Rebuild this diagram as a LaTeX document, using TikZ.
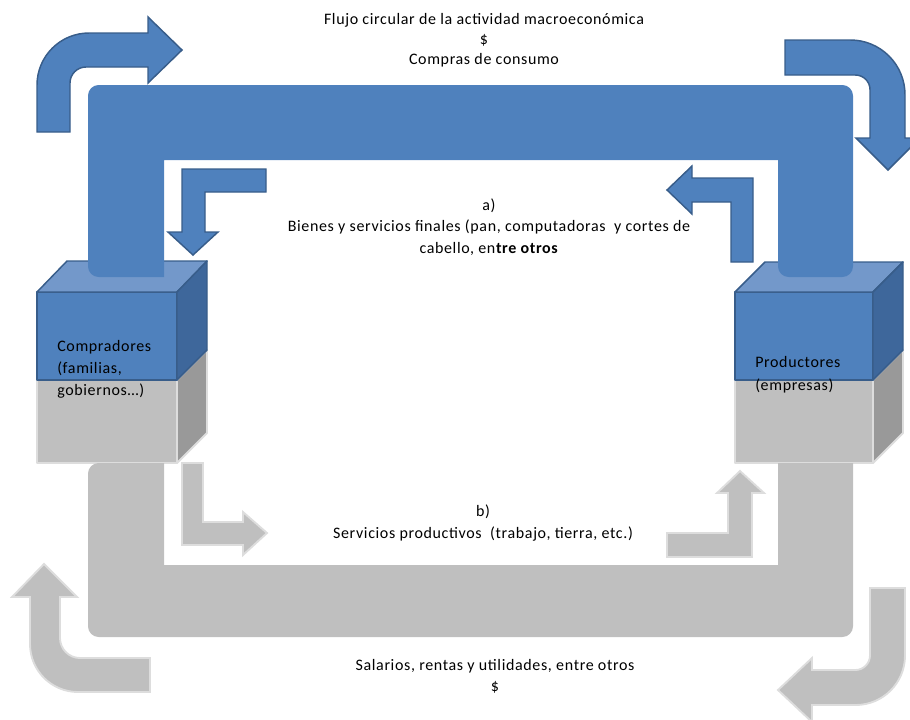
\documentclass[tikz,border=0pt]{standalone}
\usepackage{fontspec}
\setmainfont{Carlito}[LetterSpace=4]

\definecolor{flowblue}{HTML}{4F81BD}
\definecolor{flowblueline}{HTML}{385D8A}
\definecolor{flowbluetop}{HTML}{7398CA}
\definecolor{flowblueside}{HTML}{3E679B}
\definecolor{flowgray}{HTML}{BFBFBF}
\definecolor{flowgrayline}{HTML}{DDDDDD}
\definecolor{flowgrayside}{HTML}{999999}

\begin{document}
\begin{tikzpicture}[x=0.75pt,y=-0.75pt,
  bluearrow/.style={fill=flowblue, draw=flowblueline, line width=1.1pt},
  grayarrow/.style={fill=flowgray, draw=flowgrayline, line width=1.4pt},
  bluecube/.style={draw=flowblueline, line width=1.1pt, line join=round},
  graycube/.style={draw=flowgrayline, line width=1.4pt, line join=round},
  txt/.style={font=\fontsize{12}{16}\selectfont, align=center, inner sep=0pt}]

\useasboundingbox (0,0) rectangle (910,719);

%% The left box (Compradores)
\draw[graycube, fill=flowgray] (37,380) rectangle (177,463);
\draw[graycube, fill=flowgrayside] (177,380) -- (207,350) -- (207,433) -- (177,463) -- cycle;
\draw[bluecube, fill=flowblue] (37,292) rectangle (177,380);
\draw[bluecube, fill=flowbluetop] (37,292) -- (67,261) -- (207,261) -- (177,292) -- cycle;
\draw[bluecube, fill=flowblueside] (177,292) -- (207,261) -- (207,350) -- (177,380) -- cycle;

%% The right box (Productores)
\draw[graycube, fill=flowgray] (735,380) rectangle (873,463);
\draw[graycube, fill=flowgrayside] (873,380) -- (903,350) -- (903,433) -- (873,463) -- cycle;
\draw[bluecube, fill=flowblue] (735,292) rectangle (873,380);
\draw[bluecube, fill=flowbluetop] (735,292) -- (765,262) -- (903,262) -- (873,292) -- cycle;
\draw[bluecube, fill=flowblueside] (873,292) -- (903,262) -- (903,350) -- (873,380) -- cycle;

%% The upper (blue) flow
\fill[flowblue] (164,277) [rounded corners=8pt] -- (88,277) -- (88,85) -- (853,85) -- (853,277) -- (778,277) [sharp corners] -- (778,160) -- (164,160) -- cycle;

%% The lower (gray) flow
\fill[flowgray] (164,463) -- (164,565) -- (778,565) -- (778,463) -- (853,463) [rounded corners=8pt] -- (853,637) -- (88,637) -- (88,463) [sharp corners] -- cycle;

%% The curved arrows of the blue flow
\draw[bluearrow] (37,132) [rounded corners=39pt] -- (37,33) [sharp corners] -- (148,33) -- (148,17) -- (182,50) -- (148,83) -- (148,67) [rounded corners=12pt] -- (70,67) [sharp corners] -- (70,132) -- cycle;
\draw[bluearrow] (785,40) [rounded corners=41pt] -- (905,40) [sharp corners] -- (905,138) -- (920,138) -- (888,170) -- (856,138) -- (870,138) [rounded corners=11pt] -- (870,75) [sharp corners] -- (785,75) -- cycle;

%% The curved arrows of the gray flow
\draw[grayarrow] (150,692) [rounded corners=36pt] -- (30,692) [sharp corners] -- (30,597) -- (12,597) -- (44,564) -- (77,597) -- (60,597) [rounded corners=15pt] -- (60,658) [sharp corners] -- (150,658) -- cycle;
\draw[grayarrow] (870,588) -- (905,588) [rounded corners=37pt] -- (905,705) [sharp corners] -- (812,705) -- (812,722) -- (778,690) -- (812,658) -- (812,670) [rounded corners=11pt] -- (870,670) [sharp corners] -- cycle;

%% The bent arrows (a)
\draw[bluearrow] (266,169) -- (182,169) -- (182,232) -- (168,232) -- (193,255) -- (218,232) -- (205,232) -- (205,192) -- (266,192) -- cycle;
\draw[bluearrow] (753,262) -- (753,178) -- (692,178) -- (692,166) -- (667,190) -- (692,214) -- (692,202) -- (731,202) -- (731,262) -- cycle;

%% The bent arrows (b)
\draw[grayarrow] (182,463) -- (182,545) -- (243,545) -- (243,555) -- (267,533) -- (243,512) -- (243,522) -- (203,522) -- (203,463) -- cycle;
\draw[grayarrow] (667,533) -- (667,557) -- (752,557) -- (752,493) -- (764,493) -- (740,471) -- (717,493) -- (728,493) -- (728,533) -- cycle;

%% The texts
\node[txt, font=\fontsize{12}{15}\selectfont] (title) at (484,40) {Flujo circular de la actividad macroeconómica\\\$\\Compras de consumo};
\node[txt] (goods) at (489,227) {a)\\Bienes y servicios finales (pan, computadoras\ \ y cortes de\\cabello, en\textbf{tre otros}};
\node[txt] (factors) at (483,523) {b)\\Servicios productivos\ \ (trabajo, tierra, etc.)};
\node[txt, font=\fontsize{12}{15.75}\selectfont] (income) at (495,676) {Salarios, rentas y utilidades, entre otros\\\$};
\node[txt, anchor=west, align=left, font=\fontsize{12}{16.5}\selectfont] (buyers) at (57,369) {Compradores\\(familias,\\gobiernos…)};
\node[txt, anchor=west, align=left, font=\fontsize{12}{17.5}\selectfont] (sellers) at (755,375) {Productores\\(empresas)};

\end{tikzpicture}
\end{document}
